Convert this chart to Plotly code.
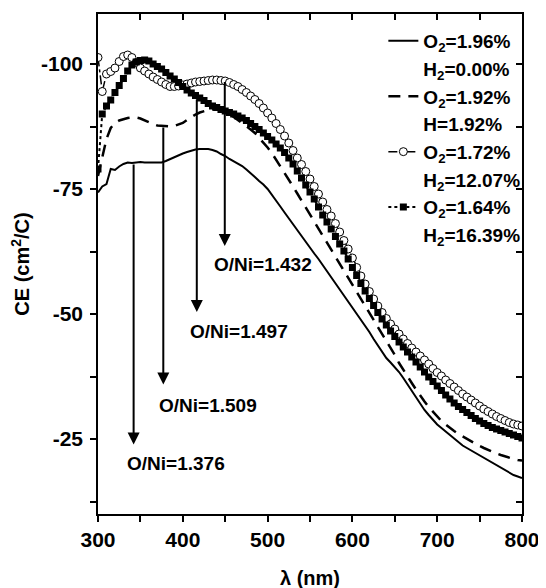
import plotly.graph_objects as go

wavelength = list(range(300, 805, 5))

ce_o196 = [-74.3, -75.5, -76.0, -79.0, -78.8, -79.5, -80.0, -80.3, -80.2, -80.3,
           -80.4, -80.3, -80.3, -80.2, -80.2, -80.3, -80.6, -81.0, -81.4, -81.8,
           -82.1, -82.4, -82.7, -82.9, -83.0, -83.0, -83.0, -82.8, -82.5, -82.0,
           -81.6, -81.0, -80.5, -80.0, -79.6, -78.9, -78.2, -77.4, -76.6, -75.9,
           -75.0, -73.9, -72.7, -71.5, -70.3, -69.1, -67.9, -66.7, -65.5, -64.4,
           -63.2, -62.1, -61.0, -59.8, -58.6, -57.3, -56.1, -54.9, -53.7, -52.5,
           -51.2, -50.0, -48.8, -47.6, -46.4, -45.0, -43.7, -42.4, -41.2, -40.3,
           -39.4, -38.4, -37.2, -35.9, -34.6, -33.3, -32.0, -30.8, -29.8, -28.8,
           -27.9, -27.2, -26.5, -25.8, -25.1, -24.4, -23.7, -23.2, -22.7, -22.2,
           -21.7, -21.2, -20.7, -20.2, -19.7, -19.2, -18.7, -18.2, -17.8, -17.5,
           -17.2]

ce_o192 = [-77.6, -81.0, -85.0, -87.2, -88.2, -88.7, -89.0, -89.2, -89.3, -89.3,
           -89.1, -88.7, -88.3, -88.0, -87.7, -87.6, -87.5, -87.5, -87.6, -87.9,
           -88.2, -88.8, -89.4, -89.9, -90.3, -90.6, -90.8, -90.9, -90.9, -90.7,
           -90.4, -90.0, -89.4, -88.8, -88.2, -87.5, -86.9, -86.2, -85.3, -84.3,
           -83.3, -82.2, -80.9, -79.6, -78.3, -76.9, -75.5, -74.1, -72.7, -71.3,
           -69.8, -68.5, -67.2, -65.8, -64.3, -62.8, -61.4, -60.0, -58.6, -57.3,
           -55.9, -54.6, -53.2, -51.8, -50.4, -49.0, -47.6, -46.2, -44.8, -43.3,
           -41.8, -40.2, -38.8, -37.5, -36.2, -34.9, -33.6, -32.5, -31.4, -30.4,
           -29.4, -28.6, -27.9, -27.2, -26.6, -26.0, -25.5, -25.0, -24.5, -24.0,
           -23.6, -23.2, -22.8, -22.4, -22.1, -21.8, -21.5, -21.2, -21.0, -20.8,
           -20.7]

ce_o172 = [-101.3, -94.5, -98.0, -98.5, -99.2, -100.5, -101.5, -101.8, -101.3, -100.3,
           -99.2, -98.6, -98.0, -97.4, -96.9, -96.4, -95.9, -95.5, -95.5, -95.6,
           -95.8, -96.0, -96.2, -96.4, -96.5, -96.6, -96.7, -96.8, -96.8, -96.7,
           -96.6, -96.3, -95.9, -95.5, -94.9, -94.3, -93.6, -92.9, -92.1, -91.2,
           -90.2, -89.2, -88.1, -86.9, -85.6, -84.2, -82.7, -81.2, -79.9, -78.5,
           -77.0, -75.5, -74.0, -72.4, -70.9, -69.6, -68.1, -66.4, -64.7, -63.0,
           -61.2, -59.3, -57.6, -56.0, -54.5, -53.0, -51.6, -50.3, -49.1, -48.0,
           -47.0, -46.0, -45.0, -44.1, -43.2, -42.4, -41.6, -40.8, -40.0, -39.1,
           -38.3, -37.6, -36.8, -36.1, -35.4, -34.7, -34.0, -33.4, -32.8, -32.2,
           -31.6, -31.0, -30.5, -30.0, -29.5, -29.1, -28.7, -28.3, -28.0, -27.8,
           -27.6]

ce_o164 = [-79.0, -90.0, -91.6, -92.8, -94.3, -95.7, -97.1, -98.6, -99.8, -100.4,
           -100.7, -100.8, -100.6, -100.0, -99.5, -99.0, -98.3, -97.6, -97.0, -96.3,
           -95.5, -94.8, -94.2, -93.7, -93.2, -92.7, -92.1, -91.6, -91.3, -90.9,
           -90.6, -90.3, -90.0, -89.6, -89.2, -88.7, -88.1, -87.5, -86.9, -86.2,
           -85.5, -84.8, -84.0, -83.2, -82.3, -81.2, -80.0, -78.6, -77.2, -75.8,
           -74.4, -73.0, -71.4, -69.8, -68.4, -67.0, -65.5, -64.0, -62.6, -61.0,
           -59.3, -57.7, -56.1, -54.6, -53.1, -51.7, -50.3, -49.0, -47.8, -46.6,
           -45.5, -44.4, -43.4, -42.4, -41.4, -40.4, -39.4, -38.4, -37.4, -36.5,
           -35.6, -34.7, -33.8, -33.0, -32.2, -31.5, -30.9, -30.3, -29.7, -29.1,
           -28.6, -28.1, -27.7, -27.3, -27.0, -26.7, -26.4, -26.1, -25.8, -25.5,
           -25.2]

o2_labels = ["O<sub>2</sub>=1.96%", "O<sub>2</sub>=1.92%",
             "O<sub>2</sub>=1.72%", "O<sub>2</sub>=1.64%"]
h2_labels = ["H<sub>2</sub>=0.00%", "H=1.92%",
             "H<sub>2</sub>=12.07%", "H<sub>2</sub>=16.39%"]

arrow_x = [342, 377, 416.5, 449.5]
arrow_top = [-80.2, -87.6, -93.2, -96.7]
arrow_tip = [-23.9, -35.9, -50.4, -63.6]
label_x = [331.6, 369.0, 406.4, 434.5]
label_y = [-20.2, -31.7, -46.6, -60.0]
label_text = ["O/Ni=1.376", "O/Ni=1.509", "O/Ni=1.497", "O/Ni=1.432"]

x_ticks = [300, 400, 500, 600, 700, 800]
x_minor = [350, 450, 550, 650, 750]
y_ticks = [-100, -75, -50, -25]
y_minor = [-12.5, -37.5, -62.5, -87.5]

FONT = "Liberation Sans"
B = lambda s: "<b>" + s + "</b>"

fig = go.Figure()

styles = [
    dict(mode="lines", line=dict(color="black", width=2)),
    dict(mode="lines", line=dict(color="black", width=2.5, dash="12px,8px")),
    dict(mode="lines+markers", line=dict(color="black", width=1.5, dash="dashdot"),
         marker=dict(symbol="circle", size=8, color="white",
                     line=dict(color="black", width=1))),
    dict(mode="lines+markers", line=dict(color="black", width=2, dash="dot"),
         marker=dict(symbol="square", size=7, color="black")),
]
series = [ce_o196, ce_o192, ce_o172, ce_o164]

for i, (ys, st) in enumerate(zip(series, styles)):
    fig.add_trace(go.Scatter(x=wavelength, y=ys, name=B(o2_labels[i]), **st))
    # second legend line (no symbol)
    fig.add_trace(go.Scatter(x=[None], y=[None], mode="lines", name=B(h2_labels[i]),
                             line=dict(color="rgba(0,0,0,0)", width=0),
                             hoverinfo="skip"))

# mirror axes holder
fig.add_trace(go.Scatter(x=[None], y=[None], xaxis="x2", yaxis="y2",
                         showlegend=False, hoverinfo="skip"))

for xa, yt, yb in zip(arrow_x, arrow_top, arrow_tip):
    fig.add_annotation(x=xa, y=yb, ax=xa, ay=yt, xref="x", yref="y", axref="x", ayref="y",
                       showarrow=True, arrowhead=2, arrowsize=1.2, arrowwidth=2,
                       arrowcolor="black", text="")
for lx, ly, lt in zip(label_x, label_y, label_text):
    fig.add_annotation(x=lx, y=ly, xref="x", yref="y", text=B(lt), showarrow=False,
                       xanchor="left", yanchor="middle",
                       font=dict(family=FONT, size=19, color="black"))

fig.add_annotation(x=0.5, y=-0.128, xref="paper", yref="paper", text=B("λ (nm)"),
                   showarrow=False, xanchor="center", yanchor="middle",
                   font=dict(family=FONT, size=20, color="black"))

tickfont = dict(family=FONT, size=21, color="black")
common = dict(showgrid=False, zeroline=False, showline=True, linecolor="black",
              linewidth=1.5, tickcolor="black", tickwidth=1.5, ticklen=6)

fig.update_layout(
    width=538, height=580,
    margin=dict(l=90, r=20, t=6, b=74),
    paper_bgcolor="white", plot_bgcolor="white",
    font=dict(family=FONT, color="black"),
    showlegend=True,
    legend=dict(x=0.673, y=0.984, xanchor="left", yanchor="top",
                bgcolor="rgba(0,0,0,0)", borderwidth=0,
                font=dict(family=FONT, size=19, color="black"),
                tracegroupgap=0),
    xaxis=dict(range=[300, 800], tickvals=x_ticks, ticktext=[B(str(v)) for v in x_ticks],
               ticks="outside", tickfont=tickfont,
               minor=dict(tickvals=x_minor, ticks="outside",
                          ticklen=6, tickcolor="black", tickwidth=1.5),
               **common),
    yaxis=dict(range=[-10, -110], tickvals=y_ticks, ticktext=[B(str(v)) for v in y_ticks],
               ticks="outside", tickfont=tickfont, ticklabelstandoff=3,
               minor=dict(tickvals=y_minor, ticks="outside",
                          ticklen=6, tickcolor="black", tickwidth=1.5),
               title=dict(text=B("CE (cm<sup>2</sup>/C)"), standoff=10,
                          font=dict(family=FONT, size=20, color="black")),
               **common),
    xaxis2=dict(range=[300, 800], overlaying="x", side="top", anchor="y2",
                tickvals=x_ticks, ticks="inside", showticklabels=False,
                minor=dict(tickvals=x_minor, ticks="inside",
                           ticklen=6, tickcolor="black", tickwidth=1.5),
                **common),
    yaxis2=dict(range=[-10, -110], overlaying="y", side="right", anchor="x2",
                tickvals=y_ticks, ticks="inside", showticklabels=False,
                minor=dict(tickvals=y_minor, ticks="inside",
                           ticklen=6, tickcolor="black", tickwidth=1.5),
                **common),
)

fig.write_html("out.html")
